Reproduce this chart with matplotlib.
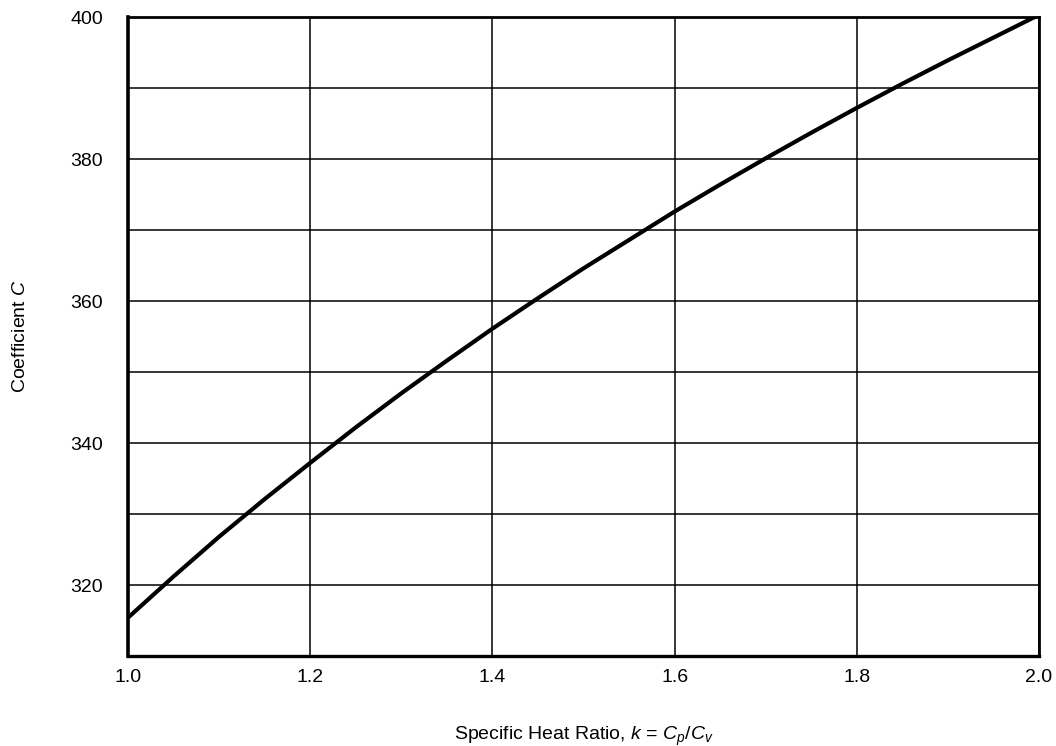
import matplotlib
matplotlib.use("Agg")
import matplotlib.pyplot as plt

plt.rcParams["font.family"] = ["Liberation Sans", "DejaVu Sans"]
plt.rcParams["mathtext.fontset"] = "custom"
plt.rcParams["mathtext.rm"] = "Liberation Sans"
plt.rcParams["mathtext.it"] = "Liberation Sans:italic"

# specific heat ratio k and coefficient C
k_values = [1.00, 1.05, 1.10, 1.15, 1.20, 1.25, 1.30, 1.35, 1.40, 1.45, 1.50,
            1.55, 1.60, 1.65, 1.70, 1.75, 1.80, 1.85, 1.90, 1.95, 2.00]
c_values = [315.4, 321.2, 326.8, 332.1, 337.2, 342.2, 347.0, 351.6, 356.1, 360.4, 364.6,
            368.6, 372.6, 376.4, 380.1, 383.7, 387.2, 390.6, 393.9, 397.1, 400.3]

x_ticks = [1.0, 1.2, 1.4, 1.6, 1.8, 2.0]
y_grid = [310, 320, 330, 340, 350, 360, 370, 380, 390, 400]
y_ticks = [320, 340, 360, 380, 400]

fig = plt.figure(figsize=(10.56, 7.46), dpi=100)
ax = fig.add_axes([0.1212, 0.1206, 0.9839 - 0.1212, 0.9772 - 0.1206])

ax.plot(k_values, c_values, color="black", linewidth=3.0, solid_capstyle="butt", zorder=3)

ax.set_xlim(1.0, 2.0)
ax.set_ylim(310, 400)

# grid lines every 0.2 in x and every 10 in y
for x in x_ticks:
    ax.axvline(x, color="black", linewidth=1.1, zorder=1)
for y in y_grid:
    ax.axhline(y, color="black", linewidth=1.1, zorder=1)

ax.set_xticks(x_ticks)
ax.set_xticklabels([f"{x:.1f}" for x in x_ticks])
ax.set_yticks(y_ticks)
ax.set_yticklabels([str(y) for y in y_ticks])
ax.tick_params(axis="both", length=0, labelsize=14)
ax.tick_params(axis="x", pad=9)
ax.tick_params(axis="y", pad=18)

for name, spine in ax.spines.items():
    spine.set_linewidth(2.0)
    spine.set_zorder(4)
ax.spines["left"].set_linewidth(2.6)
ax.spines["bottom"].set_linewidth(2.4)

ax.set_xlabel("Specific Heat Ratio, $k$ = $C_p$/$C_v$", fontsize=14, labelpad=28)
ax.set_ylabel("Coefficient $C$", fontsize=14, labelpad=30)

fig.savefig("out.png", dpi=100)
